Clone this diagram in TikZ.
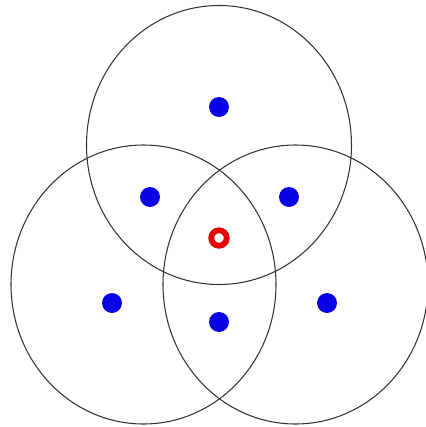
\documentclass[tikz,border=0pt]{standalone}
\usepackage{tikz}
\definecolor{ink}{HTML}{333333}
\definecolor{dotblue}{HTML}{0A00E6}
\definecolor{ringred}{HTML}{E60000}

\begin{document}
\begin{tikzpicture}[x=0.02cm,y=-0.02cm,
  zone/.style={ink,line width=0.6pt},
  sensor/.style={circle,fill=dotblue,inner sep=0pt,minimum size=0.4cm},
  target/.style={circle,draw=ringred,line width=3.3pt,inner sep=0pt,minimum size=0.31cm}]
\useasboundingbox (0,0) rectangle (426,427);
% coverage zones
\draw[zone] (219,145) ellipse [x radius=132.5,y radius=139.5];
\draw[zone] (143.5,284.5) ellipse [x radius=132.5,y radius=139.5];
\draw[zone] (295.5,284.5) ellipse [x radius=132.5,y radius=139.5];
% sensors
\node[sensor] (s1) at (219,107) {};
\node[sensor] (s2) at (150,197) {};
\node[sensor] (s3) at (289,197) {};
\node[sensor] (s4) at (112,303) {};
\node[sensor] (s5) at (219,322) {};
\node[sensor] (s6) at (327,303) {};
\node[target] (t) at (219,238) {};
\end{tikzpicture}
\end{document}
